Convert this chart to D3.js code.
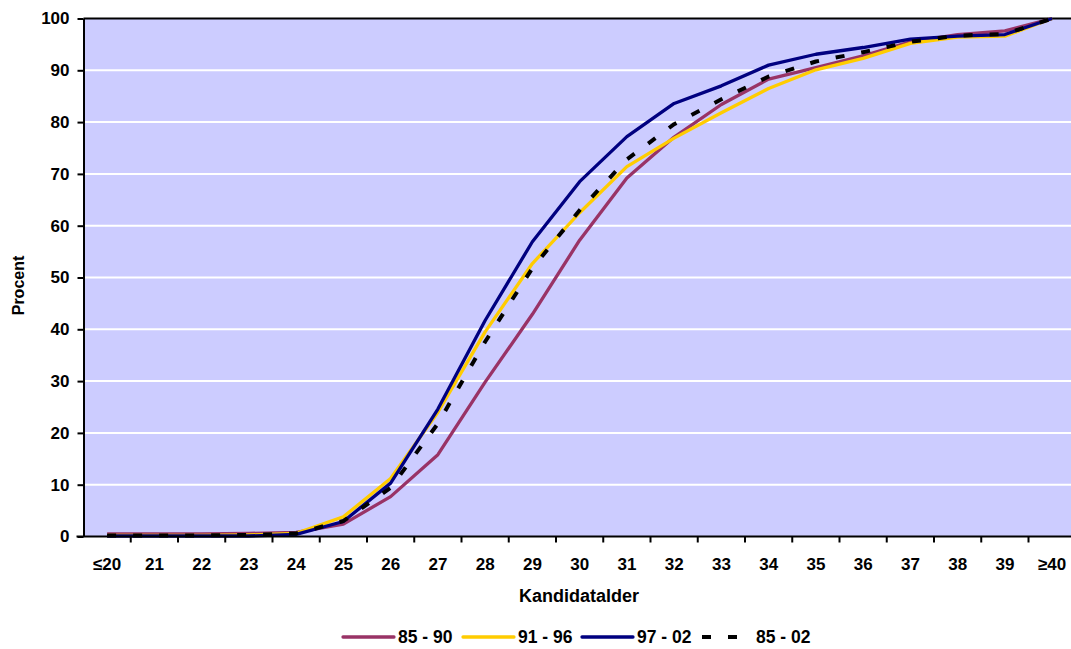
<!DOCTYPE html>
<html>
<head>
<meta charset="utf-8">
<script src="https://cdn.jsdelivr.net/npm/d3@7"></script>
<style>
  html, body { margin: 0; padding: 0; background: #fff; }
  svg { display: block; font-family: "Liberation Sans", Arial, sans-serif; }
</style>
</head>
<body>
<svg id="chart" width="1071" height="649"></svg>
<script>
// Cumulative share (%) of graduates by age at graduation
const categories = ["≤20","21","22","23","24","25","26","27","28","29","30",
                    "31","32","33","34","35","36","37","38","39","≥40"];
const s8590 = [0.5,0.5,0.5,0.6,0.8,2.4,7.7,15.8,29.8,42.9,57.2,69.2,77.1,83.4,88.3,90.5,92.8,95.5,96.9,97.6,100];
const s9196 = [0.2,0.2,0.2,0.3,0.6,3.8,11.2,24.0,39.5,52.7,62.5,71.4,76.9,81.8,86.5,90.1,92.3,95.2,96.4,96.6,100];
const s9702 = [0.1,0.1,0.1,0.1,0.4,2.9,10.3,24.6,41.7,56.9,68.5,77.2,83.6,87.0,91.0,93.1,94.4,96.0,96.6,96.9,100];
const s8502 = [0.2,0.2,0.2,0.3,0.6,3.0,9.4,21.8,37.6,51.8,63.0,72.8,79.6,84.4,88.8,91.7,93.5,95.5,96.7,97.0,100];
const seriesNames = ["85 - 90","91 - 96","97 - 02","85 - 02"];
const yTicks = [0,10,20,30,40,50,60,70,80,90,100];

const series = [
  { name: seriesNames[0], values: s8590, color: "#993366", width: 3.3, dash: null },
  { name: seriesNames[1], values: s9196, color: "#FFCC00", width: 3.3, dash: null },
  { name: seriesNames[2], values: s9702, color: "#000080", width: 3.3, dash: null },
  { name: seriesNames[3], values: s8502, color: "#000000", width: 4, dash: "9,17" }
];

const svg = d3.select("#chart");
const plotLeft = 83.5, plotTop = 18.5, plotBottom = 536.5;
const bandW = 47.25;
const plotRight = plotLeft + bandW * categories.length;
const font = "Liberation Sans, Arial, sans-serif";

const x = d3.scaleBand().domain(categories).range([plotLeft, plotRight]).padding(0);
const y = d3.scaleLinear().domain([0, 100]).range([plotBottom, plotTop]);
const cx = c => x(c) + x.bandwidth() / 2;

// plot background
svg.append("rect")
  .attr("x", plotLeft).attr("y", plotTop)
  .attr("width", plotRight - plotLeft).attr("height", plotBottom - plotTop)
  .attr("fill", "#CCCCFF");

// horizontal gridlines
svg.append("g").selectAll("line")
  .data(yTicks.filter(d => d > 0 && d < 100))
  .join("line")
  .attr("x1", plotLeft).attr("x2", plotRight)
  .attr("y1", d => y(d)).attr("y2", d => y(d))
  .attr("stroke", "#fff").attr("stroke-width", 2);

// top border
svg.append("line")
  .attr("x1", plotLeft).attr("x2", plotRight)
  .attr("y1", plotTop).attr("y2", plotTop)
  .attr("stroke", "#000").attr("stroke-width", 2);

// series lines
const line = d3.line()
  .x((d, i) => cx(categories[i]))
  .y(d => y(d));

svg.append("g").selectAll("path")
  .data(series)
  .join("path")
  .attr("d", d => line(d.values))
  .attr("fill", "none")
  .attr("stroke", d => d.color)
  .attr("stroke-width", d => d.width)
  .attr("stroke-dasharray", d => d.dash)
  .attr("stroke-linejoin", "round");

// y axis
const yAxis = svg.append("g")
  .attr("transform", `translate(${plotLeft},0)`)
  .call(d3.axisLeft(y).tickValues(yTicks).tickSize(6).tickSizeOuter(0));
yAxis.attr("font-size", null).attr("font-family", null);
yAxis.select(".domain").attr("stroke", "#000").attr("stroke-width", 2);
yAxis.selectAll(".tick line").attr("stroke", "#000").attr("stroke-width", 2);
yAxis.selectAll(".tick text")
  .attr("x", -14)
  .attr("font-size", 17).attr("font-weight", "bold")
  .attr("font-family", font)
  .attr("fill", "#000");

// x axis: labels at band centres, ticks at band edges
const xAxis = svg.append("g")
  .attr("transform", `translate(0,${plotBottom})`)
  .call(d3.axisBottom(x).tickSize(0).tickSizeOuter(0));
xAxis.attr("font-size", null).attr("font-family", null);
xAxis.select(".domain").remove();
xAxis.append("line")
  .attr("x1", plotLeft - 7).attr("x2", plotRight)
  .attr("y1", 0).attr("y2", 0)
  .attr("stroke", "#000").attr("stroke-width", 2);
xAxis.selectAll(".tick text")
  .attr("y", 28)
  .attr("dy", "0.35em")
  .attr("font-size", 17).attr("font-weight", "bold")
  .attr("font-family", font)
  .attr("fill", "#000");
xAxis.append("g").selectAll("line")
  .data(categories.slice(1))
  .join("line")
  .attr("x1", d => x(d)).attr("x2", d => x(d))
  .attr("y1", 0).attr("y2", 6)
  .attr("stroke", "#000").attr("stroke-width", 2);

// axis titles
svg.append("text")
  .attr("x", 579).attr("y", 596).attr("dy", "0.35em")
  .attr("text-anchor", "middle")
  .attr("font-size", 18).attr("font-weight", "bold")
  .attr("font-family", font)
  .text("Kandidatalder");

svg.append("text")
  .attr("transform", `translate(18,${(plotTop + plotBottom) / 2 + 8}) rotate(-90)`)
  .attr("text-anchor", "middle")
  .attr("dy", "0.35em")
  .attr("font-size", 16).attr("font-weight", "bold")
  .attr("font-family", font)
  .text("Procent");

// legend
const legendX = [343, 463, 582, 702];
const legend = svg.append("g");
series.forEach((s, i) => {
  const g = legend.append("g").attr("transform", `translate(${legendX[i]},637)`);
  g.append("line")
    .attr("x1", 0).attr("x2", s.dash ? 45 : 51)
    .attr("y1", 0).attr("y2", 0)
    .attr("stroke", s.color)
    .attr("stroke-width", s.dash ? 4 : 3.3)
    .attr("stroke-dasharray", s.dash)
    .attr("stroke-linecap", s.dash ? "butt" : "round");
  g.append("text")
    .attr("x", s.dash ? 54 : 55).attr("y", 0).attr("dy", "0.36em")
    .attr("font-size", 17.5).attr("font-weight", "bold")
    .attr("font-family", font)
    .text(s.name);
});
</script>
</body>
</html>
